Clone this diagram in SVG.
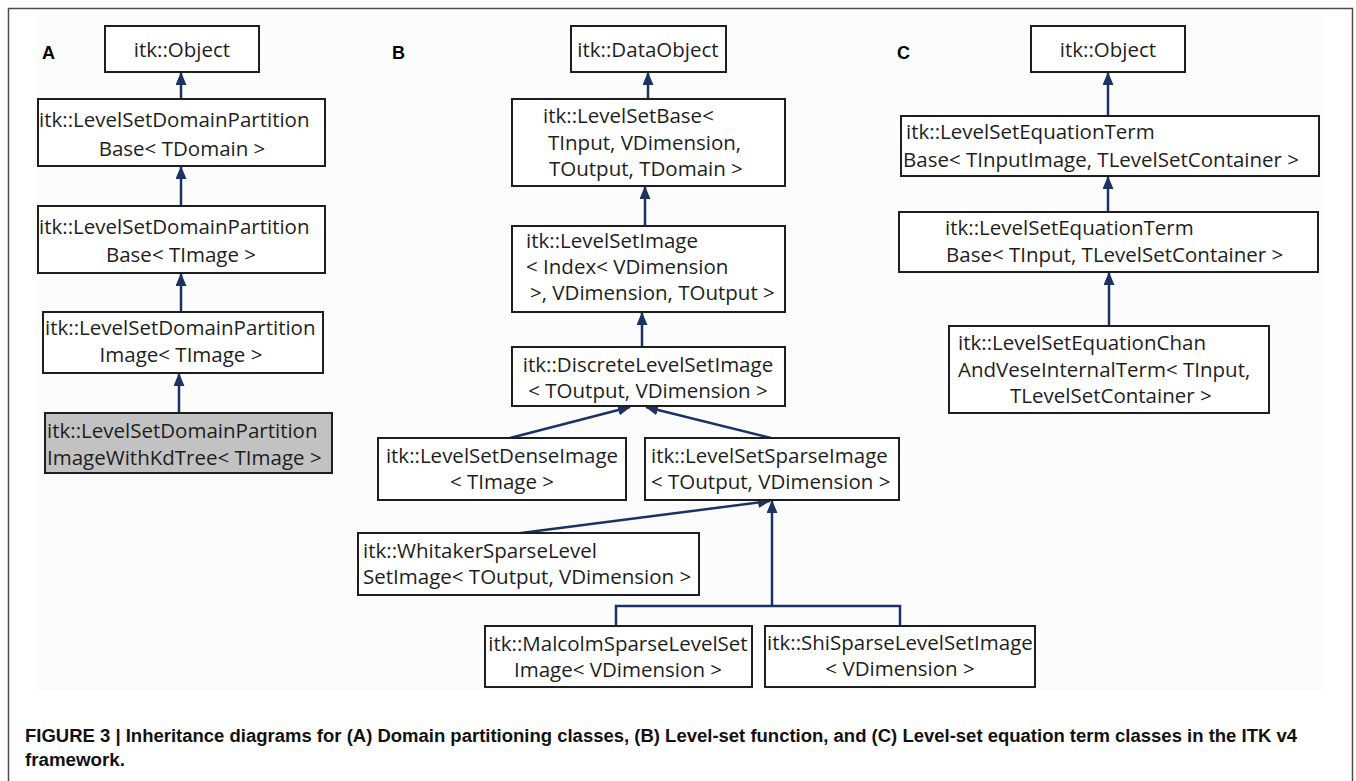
<svg xmlns="http://www.w3.org/2000/svg" width="1356" height="781" viewBox="0 0 1356 781">
<style>
.box{fill:#fff;stroke:#1e1e1e;stroke-width:2}
.gray{fill:#c2c2c2}
.t{font-family:"Open Sans","Noto Sans",sans-serif;font-size:20.5px;fill:#1e1e1e}
.m{text-anchor:middle}
.edge{stroke:#1b3363;stroke-width:2.5;fill:none}
.lbl{font-family:"Liberation Sans",Arial,sans-serif;font-weight:bold;font-size:18px;fill:#000}
.cap{font-family:"Liberation Sans",Arial,sans-serif;font-weight:bold;font-size:17.5px;fill:#111}
</style>
<defs>
<marker id="ah" viewBox="0 0 13 11" refX="12" refY="5.5" markerWidth="13" markerHeight="11" markerUnits="userSpaceOnUse" orient="auto">
<path d="M0,0 L13,5.5 L0,11 Z" fill="#1b3363"/>
</marker>
</defs>
<rect x="0" y="0" width="1356" height="781" fill="#fff"/>
<rect x="35" y="10" width="1287" height="680" fill="#fcfcfc"/>
<rect x="8.5" y="8.5" width="1344" height="800" fill="none" stroke="#4d4d4d" stroke-width="1.5"/>

<g id="labels">
<text class="lbl" x="42" y="59">A</text>
<text class="lbl" x="392" y="59">B</text>
<text class="lbl" x="897" y="59">C</text>
</g>

<g id="connectors">
<line class="edge" x1="181" y1="99" x2="181" y2="73" marker-end="url(#ah)"/>
<line class="edge" x1="181" y1="206" x2="181" y2="167" marker-end="url(#ah)"/>
<line class="edge" x1="181" y1="312" x2="181" y2="274" marker-end="url(#ah)"/>
<line class="edge" x1="179" y1="413" x2="179" y2="374" marker-end="url(#ah)"/>

<line class="edge" x1="648" y1="99" x2="648" y2="73" marker-end="url(#ah)"/>
<line class="edge" x1="645" y1="226" x2="645" y2="187" marker-end="url(#ah)"/>
<line class="edge" x1="642" y1="347" x2="642" y2="313" marker-end="url(#ah)"/>
<line class="edge" x1="510" y1="438" x2="630" y2="407" marker-end="url(#ah)"/>
<line class="edge" x1="771" y1="438" x2="646" y2="407" marker-end="url(#ah)"/>
<line class="edge" x1="521" y1="533" x2="770" y2="501" marker-end="url(#ah)"/>
<line class="edge" x1="772" y1="606" x2="772" y2="501" marker-end="url(#ah)"/>
<polyline class="edge" points="616,626 616,606 900,606 900,626"/>

<line class="edge" x1="1108" y1="116" x2="1108" y2="73" marker-end="url(#ah)"/>
<line class="edge" x1="1108" y1="212" x2="1108" y2="177" marker-end="url(#ah)"/>
<line class="edge" x1="1109" y1="326" x2="1109" y2="273" marker-end="url(#ah)"/>
</g>

<g id="a_object">
<rect class="box" x="105" y="26" width="154" height="46"/>
<text class="t m" x="182" y="57">itk::Object</text>
</g>
<g id="a_base_tdomain">
<rect class="box" x="38" y="99" width="287" height="67"/>
<text class="t" x="39" y="127">itk::LevelSetDomainPartition</text>
<text class="t m" x="182" y="156">Base&lt; TDomain &gt;</text>
</g>
<g id="a_base_timage">
<rect class="box" x="38" y="206" width="287" height="67"/>
<text class="t" x="39" y="234">itk::LevelSetDomainPartition</text>
<text class="t m" x="181" y="262">Base&lt; TImage &gt;</text>
</g>
<g id="a_image">
<rect class="box" x="43" y="312" width="280" height="61"/>
<text class="t" x="45" y="335">itk::LevelSetDomainPartition</text>
<text class="t m" x="181" y="362">Image&lt; TImage &gt;</text>
</g>
<g id="a_kdtree">
<rect class="box gray" x="45" y="413" width="287" height="60"/>
<text class="t" x="47" y="438">itk::LevelSetDomainPartition</text>
<text class="t" x="47" y="465">ImageWithKdTree&lt; TImage &gt;</text>
</g>

<g id="b_dataobject">
<rect class="box" x="571" y="26" width="155" height="46"/>
<text class="t m" x="648" y="57">itk::DataObject</text>
</g>
<g id="b_levelsetbase">
<rect class="box" x="512" y="99" width="273" height="87"/>
<text class="t" x="543" y="123">itk::LevelSetBase&lt;</text>
<text class="t" x="548" y="150">TInput, VDimension,</text>
<text class="t" x="549" y="176">TOutput, TDomain &gt;</text>
</g>
<g id="b_levelsetimage">
<rect class="box" x="512" y="226" width="273" height="86"/>
<text class="t" x="526" y="248">itk::LevelSetImage</text>
<text class="t" x="526" y="274">&lt; Index&lt; VDimension</text>
<text class="t" x="530" y="300">&gt;, VDimension, TOutput &gt;</text>
</g>
<g id="b_discrete">
<rect class="box" x="512" y="347" width="273" height="59"/>
<text class="t m" x="648" y="372">itk::DiscreteLevelSetImage</text>
<text class="t m" x="648" y="398">&lt; TOutput, VDimension &gt;</text>
</g>
<g id="b_dense">
<rect class="box" x="378" y="438" width="248" height="62"/>
<text class="t m" x="502" y="463">itk::LevelSetDenseImage</text>
<text class="t m" x="502" y="489">&lt; TImage &gt;</text>
</g>
<g id="b_sparse">
<rect class="box" x="645" y="438" width="254" height="62"/>
<text class="t" x="651" y="463">itk::LevelSetSparseImage</text>
<text class="t" x="651" y="489">&lt; TOutput, VDimension &gt;</text>
</g>
<g id="b_whitaker">
<rect class="box" x="358" y="533" width="341" height="62"/>
<text class="t" x="363" y="558">itk::WhitakerSparseLevel</text>
<text class="t" x="363" y="584">SetImage&lt; TOutput, VDimension &gt;</text>
</g>
<g id="b_malcolm">
<rect class="box" x="485" y="626" width="267" height="61"/>
<text class="t m" x="618" y="651">itk::MalcolmSparseLevelSet</text>
<text class="t m" x="618" y="677">Image&lt; VDimension &gt;</text>
</g>
<g id="b_shi">
<rect class="box" x="765" y="626" width="270" height="61"/>
<text class="t" x="767" y="650">itk::ShiSparseLevelSetImage</text>
<text class="t m" x="900" y="676">&lt; VDimension &gt;</text>
</g>

<g id="c_object">
<rect class="box" x="1031" y="26" width="154" height="46"/>
<text class="t m" x="1108" y="57">itk::Object</text>
</g>
<g id="c_termbase_inputimage">
<rect class="box" x="901" y="116" width="418" height="60"/>
<text class="t" x="906" y="139">itk::LevelSetEquationTerm</text>
<text class="t" x="903" y="167">Base&lt; TInputImage, TLevelSetContainer &gt;</text>
</g>
<g id="c_termbase_input">
<rect class="box" x="899" y="212" width="419" height="60"/>
<text class="t" x="945" y="235">itk::LevelSetEquationTerm</text>
<text class="t" x="946" y="262">Base&lt; TInput, TLevelSetContainer &gt;</text>
</g>
<g id="c_chanvese">
<rect class="box" x="949" y="326" width="320" height="87"/>
<text class="t" x="958" y="350">itk::LevelSetEquationChan</text>
<text class="t" x="958" y="377">AndVeseInternalTerm&lt; TInput,</text>
<text class="t" x="1010" y="403">TLevelSetContainer &gt;</text>
</g>

<g id="caption">
<text class="cap" x="25" y="742" textLength="1272" lengthAdjust="spacingAndGlyphs">FIGURE 3 | Inheritance diagrams for (A) Domain partitioning classes, (B) Level-set function, and (C) Level-set equation term classes in the ITK v4</text>
<text class="cap" x="25" y="766" textLength="100" lengthAdjust="spacingAndGlyphs">framework.</text>
</g>
</svg>
